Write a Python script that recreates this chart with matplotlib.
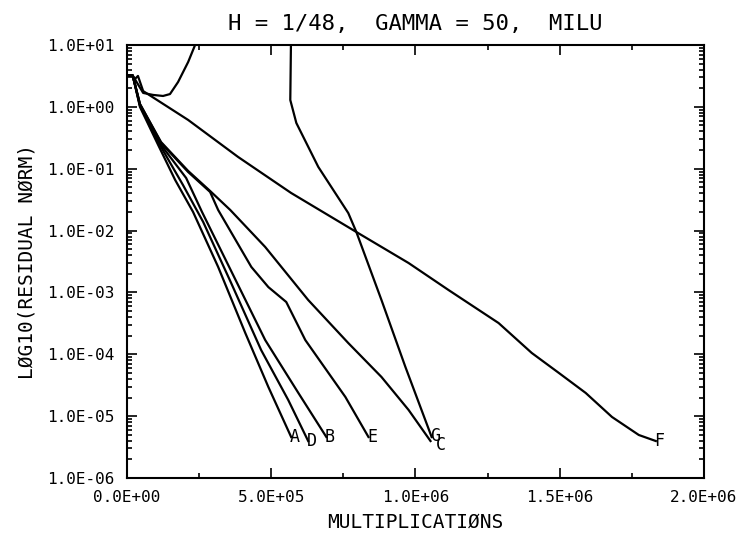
import matplotlib
matplotlib.use('Agg')
import matplotlib.pyplot as plt
from matplotlib.ticker import FixedLocator, NullFormatter
import numpy as np

plt.rcParams['font.family'] = ['DejaVu Sans Mono']

# Curve data (x in multiplications, y = residual norm)
a_x = [0, 0.02e6, 0.045e6, 0.108e6, 0.167e6, 0.229e6, 0.316e6, 0.410e6, 0.490e6, 0.569e6]
a_y = [3.2, 3.2, 0.995, 0.242, 0.0657, 0.0200, 0.00258, 0.000221, 2.96e-5, 4.60e-6]

d_x = [0, 0.02e6, 0.045e6, 0.118e6, 0.194e6, 0.264e6, 0.361e6, 0.465e6, 0.559e6, 0.628e6]
d_y = [3.2, 3.2, 1.03, 0.224, 0.0546, 0.0138, 0.00142, 0.000117, 1.82e-5, 3.96e-6]

b_x = [0, 0.02e6, 0.045e6, 0.118e6, 0.205e6, 0.260e6, 0.368e6, 0.479e6, 0.594e6, 0.691e6]
b_y = [3.2, 3.2, 1.07, 0.242, 0.0708, 0.0200, 0.00191, 0.000170, 2.37e-5, 4.60e-6]

e_x = [0, 0.02e6, 0.045e6, 0.118e6, 0.212e6, 0.288e6, 0.316e6, 0.431e6, 0.490e6,
       0.552e6, 0.618e6, 0.757e6, 0.837e6]
e_y = [3.2, 3.2, 1.11, 0.261, 0.0885, 0.0421, 0.0215, 0.00258, 0.00122,
       0.000700, 0.000170, 2.04e-5, 4.60e-6]

c_x = [0, 0.02e6, 0.045e6, 0.118e6, 0.212e6, 0.288e6, 0.358e6, 0.479e6, 0.628e6,
       0.767e6, 0.882e6, 0.976e6, 1.052e6]
c_y = [3.2, 3.2, 1.11, 0.270, 0.092, 0.0437, 0.0215, 0.00543, 0.000755,
       0.000152, 4.30e-5, 1.26e-5, 3.96e-6]

g_x = [0.569e6, 0.566e6, 0.587e6, 0.663e6, 0.767e6, 0.795e6, 0.882e6, 0.965e6, 1.056e6]
g_y = [20, 1.29, 0.548, 0.107, 0.0192, 0.00948, 0.000755, 6.24e-5, 4.60e-6]

f_x = [0, 0.02e6, 0.024e6, 0.038e6, 0.056e6, 0.212e6, 0.385e6, 0.569e6, 0.795e6,
       0.976e6, 1.115e6, 1.288e6, 1.403e6, 1.497e6, 1.590e6, 1.681e6, 1.774e6, 1.833e6]
f_y = [3.2, 3.2, 2.72, 3.16, 1.80, 0.614, 0.155, 0.0405, 0.00948,
       0.00299, 0.00109, 0.000320, 0.000105, 4.99e-5, 2.37e-5, 9.7e-6, 4.96e-6, 3.96e-6]

# diverging run, no label
div_x = [0, 0.02e6, 0.056e6, 0.090e6, 0.125e6, 0.149e6, 0.177e6, 0.212e6, 0.236e6, 0.25e6]
div_y = [3.2, 3.2, 1.68, 1.56, 1.50, 1.61, 2.52, 5.31, 10, 14.5]

curves = [('A', a_x, a_y), ('D', d_x, d_y), ('B', b_x, b_y), ('E', e_x, e_y),
          ('G', g_x, g_y), ('C', c_x, c_y), ('F', f_x, f_y)]

x_ticks = [0, 0.5e6, 1.0e6, 1.5e6, 2.0e6]
x_ticklabels = ['0.0E+00', '5.0E+05', '1.0E+06', '1.5E+06', '2.0E+06']
x_minor = [0.25e6, 0.75e6, 1.25e6, 1.75e6]
y_ticks = [1e-6, 1e-5, 1e-4, 1e-3, 1e-2, 1e-1, 1e0, 1e1]
y_ticklabels = ['1.0E-06', '1.0E-05', '1.0E-04', '1.0E-03',
                '1.0E-02', '1.0E-01', '1.0E+00', '1.0E+01']

# label nudges (points) so G and C sit like the plotter put them
label_offsets = {'C': (4, -3), 'G': (-1, 1)}

fig = plt.figure(figsize=(7.42, 5.43), dpi=100)
ax = fig.add_axes([127 / 742, 1 - 478 / 543, 577 / 742, 433 / 543])

for name, xs, ys in curves:
    ax.plot(xs, ys, color='black', lw=1.6)
    off = label_offsets.get(name, (-1, 0))
    ax.annotate(name, (xs[-1], ys[-1]), xytext=off, textcoords='offset points',
                ha='left', va='center', fontsize=12)
ax.plot(div_x, div_y, color='black', lw=1.6)

ax.set_yscale('log')
ax.set_xlim(0, 2.0e6)
ax.set_ylim(1e-6, 1e1)

ax.xaxis.set_major_locator(FixedLocator(x_ticks))
ax.set_xticklabels(x_ticklabels)
ax.xaxis.set_minor_locator(FixedLocator(x_minor))
ax.yaxis.set_major_locator(FixedLocator(y_ticks))
ax.set_yticklabels(y_ticklabels)
ax.yaxis.set_minor_locator(FixedLocator(
    [m * 10.0 ** k for k in range(-6, 1) for m in range(2, 10)]))
ax.yaxis.set_minor_formatter(NullFormatter())

ax.tick_params(which='both', direction='in', top=True, right=True,
               labelsize=11.5, width=1.2)
ax.tick_params(which='major', length=7, pad=9)
ax.tick_params(which='minor', length=3.5)
for s in ax.spines.values():
    s.set_linewidth(1.5)

ax.set_title('H = 1/48,  GAMMA = 50,  MILU', fontsize=16, pad=11)
ax.set_xlabel('MULTIPLICATIØNS', fontsize=14, labelpad=5)
ax.set_ylabel('LØG10(RESIDUAL NØRM)', fontsize=14, labelpad=8)

fig.savefig('out.png', dpi=100)
